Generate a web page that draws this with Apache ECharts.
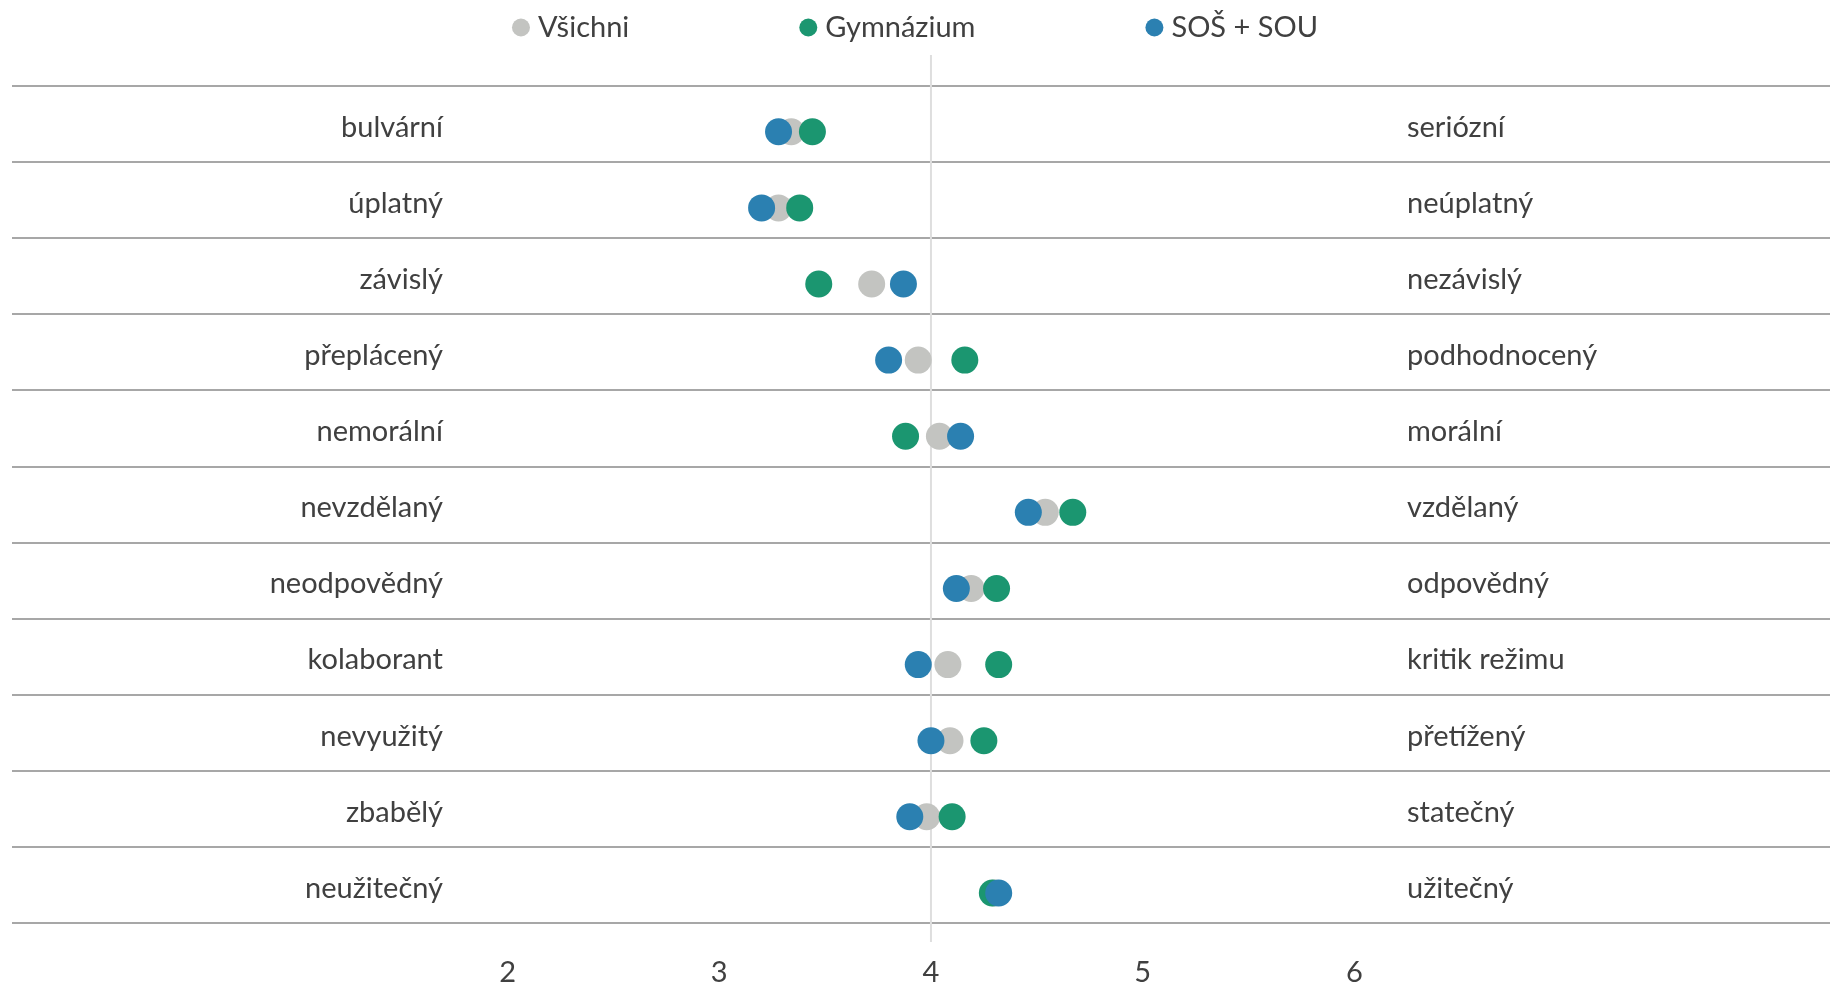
<!DOCTYPE html>
<html>
<head>
<meta charset="utf-8">
<script src="https://cdn.jsdelivr.net/npm/echarts@6/dist/echarts.min.js"></script>
<style>
  html, body { margin: 0; padding: 0; background: #ffffff; }
  #chart { width: 1830px; height: 984px; }
</style>
</head>
<body>
<div id="chart"></div>
<script>
// ---- Data ----
const leftLabels = ['bulvární', 'úplatný', 'závislý', 'přeplácený', 'nemorální', 'nevzdělaný', 'neodpovědný', 'kolaborant', 'nevyužitý', 'zbabělý', 'neužitečný'];
const rightLabels = ['seriózní', 'neúplatný', 'nezávislý', 'podhodnocený', 'morální', 'vzdělaný', 'odpovědný', 'kritik režimu', 'přetížený', 'statečný', 'užitečný'];
const seriesNames = ['Všichni', 'Gymnázium', 'SOŠ + SOU'];
const vsichni   = [3.34, 3.28, 3.72, 3.94, 4.04, 4.54, 4.19, 4.08, 4.09, 3.98, 4.30];
const gymnazium = [3.44, 3.38, 3.47, 4.16, 3.88, 4.67, 4.31, 4.32, 4.25, 4.10, 4.29];
const sosSou    = [3.28, 3.20, 3.87, 3.80, 4.14, 4.46, 4.12, 3.94, 4.00, 3.90, 4.32];
const tickValues = [2, 3, 4, 5, 6];
const midpoint = 4;

// ---- Styles ----
const colors = ['#c3c4c1', '#1b9670', '#2b80b1'];
const fontFamily = 'Lato, "Open Sans", sans-serif';
const textColor = '#404040';
const axisMin = -0.341, axisMax = 8.247;

const chart = echarts.init(document.getElementById('chart'), null, { renderer: 'canvas' });

function pts(arr) { return arr.map((v, i) => [v, leftLabels[i]]); }

const allSeries = [vsichni, gymnazium, sosSou];

const catLabel = (align) => ({
  margin: 0, align: align,
  formatter: (v) => '{t|' + v + '}',
  rich: { t: { fontFamily: fontFamily, fontSize: 29, color: textColor, padding: [7, 0, 0, 0] } }
});

const option = {
  animation: false,
  backgroundColor: '#ffffff',
  textStyle: { fontFamily: fontFamily },
  color: colors,
  legend: {
    top: 8,
    left: 'center',
    itemGap: 170,
    itemWidth: 18,
    itemHeight: 18,
    icon: 'circle',
    data: seriesNames,
    textStyle: { fontFamily: fontFamily, fontSize: 29, color: textColor, padding: [0, 0, 0, 3] }
  },
  grid: [
    { left: 12, right: 0, top: 85.7, bottom: 61, containLabel: false, outerBoundsMode: 'none' },
    { left: 12, right: 0, top: 55, bottom: 42, containLabel: false, outerBoundsMode: 'none' }
  ],
  xAxis: [
    {
      type: 'value', gridIndex: 0, min: axisMin, max: axisMax,
      axisLine: { show: false }, axisTick: { show: false },
      splitLine: { show: false },
      axisLabel: {
        customValues: tickValues,
        margin: 35,
        fontFamily: fontFamily, fontSize: 29, color: textColor
      }
    },
    { type: 'value', gridIndex: 1, min: axisMin, max: axisMax, show: false }
  ],
  yAxis: [
    {
      type: 'category', gridIndex: 0, data: leftLabels, inverse: true,
      position: 'left', offset: -431,
      boundaryGap: true,
      axisLine: { show: false }, axisTick: { show: false },
      axisLabel: catLabel('right'),
      splitLine: { show: true, lineStyle: { color: '#8a8a8a', width: 1.5 } }
    },
    {
      type: 'category', gridIndex: 0, data: rightLabels, inverse: true,
      position: 'right', offset: -423,
      boundaryGap: true,
      axisLine: { show: false }, axisTick: { show: false },
      axisLabel: catLabel('left'),
      splitLine: { show: false }
    },
    { type: 'value', gridIndex: 1, min: 0, max: 1, show: false }
  ],
  series: [
    {
      type: 'line', xAxisIndex: 1, yAxisIndex: 2, silent: true,
      data: [[midpoint, 0], [midpoint, 1]],
      symbol: 'none', z: 1,
      lineStyle: { color: '#dedede', width: 2 }
    }
  ].concat(seriesNames.map((name, k) => ({
    name: name,
    type: 'scatter',
    xAxisIndex: 0, yAxisIndex: 0,
    data: pts(allSeries[k]),
    symbol: 'circle',
    symbolSize: 27,
    symbolOffset: [0, 8],
    itemStyle: { color: colors[k], opacity: 1 },
    z: 3 + k
  })))
};

chart.setOption(option);
</script>
</body>
</html>
